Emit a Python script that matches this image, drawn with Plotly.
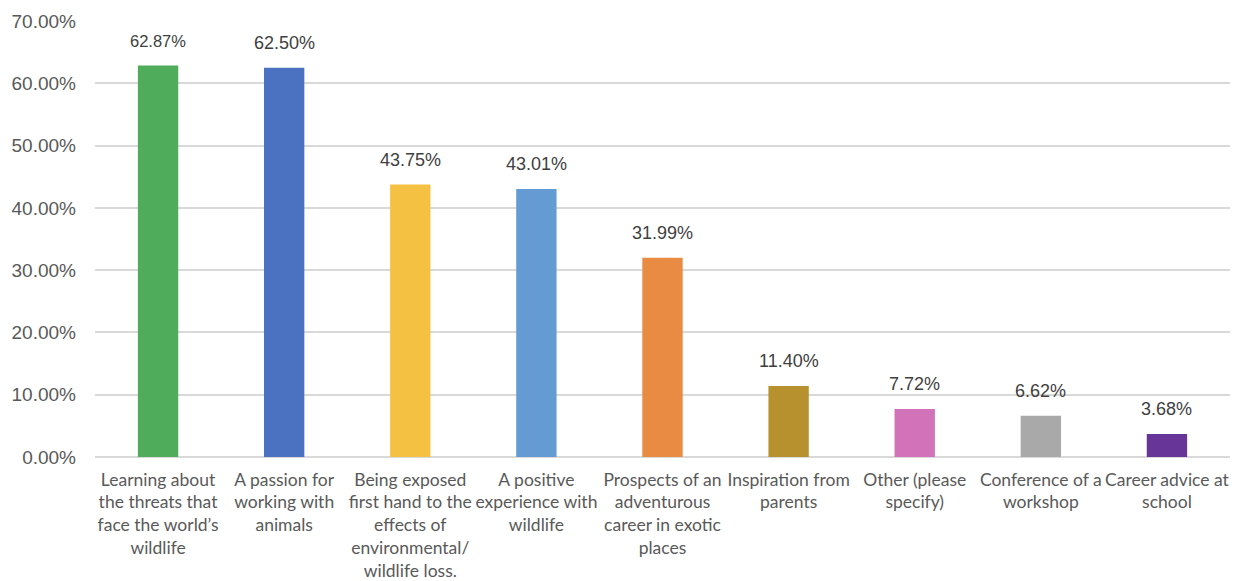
import plotly.graph_objects as go

categories = [
    "Learning about<br>the threats that<br>face the world\u2019s<br>wildlife",
    "A passion for<br>working with<br>animals",
    "Being exposed<br>first hand to the<br>effects of<br>environmental/<br>wildlife loss.",
    "A positive<br>experience with<br>wildlife",
    "Prospects of an<br>adventurous<br>career in exotic<br>places",
    "Inspiration from<br>parents",
    "Other (please<br>specify)",
    "Conference of a<br>workshop",
    "Career advice at<br>school",
]
values = [62.87, 62.50, 43.75, 43.01, 31.99, 11.40, 7.72, 6.62, 3.68]
colors = ["#4EAC5B", "#4A72C0", "#F5C142", "#659BD3", "#E98B43",
          "#B8912F", "#D273BA", "#A9A9A9", "#673597"]
label_sizes = [16.5, 18, 18, 18, 18, 18, 18, 18, 18]
y_ticks = [0, 10, 20, 30, 40, 50, 60, 70]

x_idx = list(range(len(categories)))

fig = go.Figure()
fig.add_trace(go.Bar(
    x=x_idx, y=values, marker=dict(color=colors, line=dict(width=0)),
    width=0.32, hoverinfo="skip",
))

for i, v in enumerate(values):
    fig.add_annotation(
        x=i, y=v, text=f"{v:.2f}%", showarrow=False, yanchor="bottom",
        yshift=13, font=dict(family="Liberation Sans, Arial", size=label_sizes[i], color="#404040"),
    )

fig.update_layout(
    width=1239, height=581,
    margin=dict(l=95, r=9, t=21, b=124),
    paper_bgcolor="white", plot_bgcolor="white",
    showlegend=False,
    xaxis=dict(
        tickmode="array", tickvals=x_idx, ticktext=categories,
        range=[-0.5, len(categories) - 0.5],
        tickfont=dict(family="Lato, Open Sans", size=17.5, color="#595959"),
        showgrid=False, zeroline=False, showline=False, ticks="",
        tickangle=0, ticklabelstandoff=10, automargin=False,
    ),
    yaxis=dict(
        range=[0, 70], tickvals=y_ticks,
        ticktext=[f"{t:.2f}%" for t in y_ticks],
        tickfont=dict(family="Liberation Sans, Arial", size=19, color="#595959"),
        showgrid=True, gridcolor="#D9D9D9", gridwidth=1.5,
        zeroline=True, zerolinecolor="#D9D9D9", zerolinewidth=1.5,
        showline=False, ticks="", ticklabelstandoff=18, automargin=False,
    ),
)

fig.write_html("out.html")
